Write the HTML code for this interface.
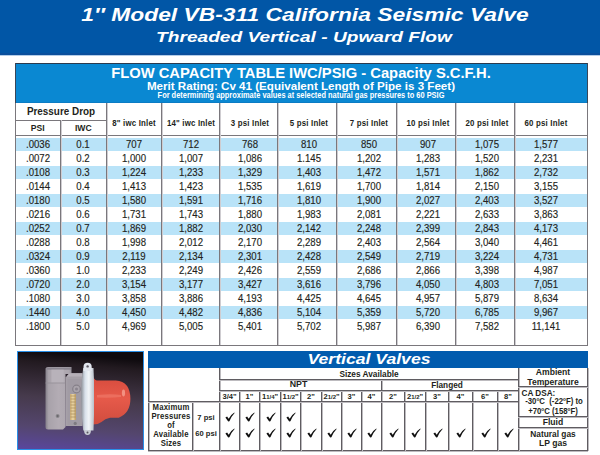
<!DOCTYPE html>
<html><head><meta charset="utf-8">
<style>
html,body{margin:0;padding:0;}
body{width:600px;height:455px;position:relative;overflow:hidden;background:#fff;font-family:"Liberation Sans",sans-serif;color:#231f20;}
.a{position:absolute;}
.t{position:absolute;white-space:nowrap;text-align:center;width:600px;}
.b{font-weight:bold;}
</style></head><body>

<div class="a" style="left:0.00px;top:0.00px;width:600.00px;height:53.00px;background:#0156a6;"></div>
<div class="a" style="left:0.00px;top:53.00px;width:600.00px;height:2.00px;background:#0a4f9c;"></div>
<div class="a" style="left:0.00px;top:55.00px;width:600.00px;height:1.00px;background:#b4cde8;"></div>
<div id="title" class="t" style="left:4.60px;top:4.26px;font-size:18.60px;line-height:22.00px;font-weight:bold;font-style:italic;color:#fff;transform:scaleX(1.228);">1&#8243; Model VB-311 California Seismic Valve</div>
<div id="sub" class="t" style="left:4.40px;top:27.60px;font-size:15.00px;line-height:18.00px;font-weight:bold;font-style:italic;color:#fff;transform:scaleX(1.275);">Threaded Vertical - Upward Flow</div>
<div class="a" style="left:15px;top:63px;width:573px;height:283px;box-sizing:border-box;border:1px solid #7a777c;"></div>
<div class="a" style="left:16.00px;top:64.00px;width:571.00px;height:38.00px;background:#0a88d2;"></div>
<div class="a" style="left:16.00px;top:102.00px;width:571.00px;height:1.00px;background:#0b7cc4;"></div>
<div class="a" style="left:15.00px;top:63.00px;width:573.00px;height:1.00px;background:#2a3a4e;"></div>
<div class="a" style="left:15.00px;top:63.00px;width:1.00px;height:40.00px;background:#3a4658;"></div>
<div class="a" style="left:587.00px;top:63.00px;width:1.00px;height:40.00px;background:#3a4658;"></div>
<div id="tt1" class="t" style="left:0.60px;top:63.60px;font-size:15.00px;line-height:18.00px;font-weight:bold;color:#fff;transform:scaleX(0.984);">FLOW CAPACITY TABLE IWC/PSIG - Capacity S.C.F.H.</div>
<div id="tt2" class="t" style="left:1.30px;top:79.08px;font-size:11.30px;line-height:14.00px;font-weight:bold;color:#fff;transform:scaleX(1.027);">Merit Rating: Cv 41 (Equivalent Length of Pipe is 3 Feet)</div>
<div id="tt3" class="t" style="left:1.30px;top:90.12px;font-size:8.30px;line-height:10.00px;font-weight:bold;color:#fff;transform:scaleX(0.895);">For determining approximate values at selected natural gas pressures to 60 PSIG</div>
<div class="a" style="left:16.00px;top:138.00px;width:571.00px;height:13.00px;background:#b9e3f8;"></div>
<div class="a" style="left:16.00px;top:166.00px;width:571.00px;height:13.00px;background:#b9e3f8;"></div>
<div class="a" style="left:16.00px;top:194.00px;width:571.00px;height:13.00px;background:#b9e3f8;"></div>
<div class="a" style="left:16.00px;top:222.00px;width:571.00px;height:13.00px;background:#b9e3f8;"></div>
<div class="a" style="left:16.00px;top:250.00px;width:571.00px;height:13.00px;background:#b9e3f8;"></div>
<div class="a" style="left:16.00px;top:278.00px;width:571.00px;height:13.00px;background:#b9e3f8;"></div>
<div class="a" style="left:16.00px;top:306.00px;width:571.00px;height:13.00px;background:#b9e3f8;"></div>
<div class="a" style="left:15.00px;top:120.00px;width:91.00px;height:1.00px;background:#7a777c;"></div>
<div class="a" style="left:15.00px;top:135.00px;width:572.00px;height:1.00px;background:#7a777c;"></div>
<div class="a" style="left:60.00px;top:120.00px;width:1.00px;height:225.00px;background:#7a777c;"></div>
<div class="a" style="left:61.00px;top:120.00px;width:1.00px;height:225.00px;background:#cfcdd1;"></div>
<div class="a" style="left:106.00px;top:103.00px;width:1.00px;height:242.00px;background:#7a777c;"></div>
<div class="a" style="left:107.00px;top:103.00px;width:1.00px;height:242.00px;background:#cfcdd1;"></div>
<div class="a" style="left:161.00px;top:103.00px;width:1.00px;height:242.00px;background:#7a777c;"></div>
<div class="a" style="left:162.00px;top:103.00px;width:1.00px;height:242.00px;background:#cfcdd1;"></div>
<div class="a" style="left:219.00px;top:103.00px;width:1.00px;height:242.00px;background:#7a777c;"></div>
<div class="a" style="left:220.00px;top:103.00px;width:1.00px;height:242.00px;background:#cfcdd1;"></div>
<div class="a" style="left:277.00px;top:103.00px;width:1.00px;height:242.00px;background:#7a777c;"></div>
<div class="a" style="left:278.00px;top:103.00px;width:1.00px;height:242.00px;background:#cfcdd1;"></div>
<div class="a" style="left:336.00px;top:103.00px;width:1.00px;height:242.00px;background:#7a777c;"></div>
<div class="a" style="left:337.00px;top:103.00px;width:1.00px;height:242.00px;background:#cfcdd1;"></div>
<div class="a" style="left:396.00px;top:103.00px;width:1.00px;height:242.00px;background:#7a777c;"></div>
<div class="a" style="left:397.00px;top:103.00px;width:1.00px;height:242.00px;background:#cfcdd1;"></div>
<div class="a" style="left:455.00px;top:103.00px;width:1.00px;height:242.00px;background:#7a777c;"></div>
<div class="a" style="left:456.00px;top:103.00px;width:1.00px;height:242.00px;background:#cfcdd1;"></div>
<div class="a" style="left:514.00px;top:103.00px;width:1.00px;height:242.00px;background:#7a777c;"></div>
<div class="a" style="left:515.00px;top:103.00px;width:1.00px;height:242.00px;background:#cfcdd1;"></div>
<div id="pd" class="t" style="left:-239.00px;top:105.19px;font-size:11.00px;line-height:13.00px;font-weight:bold;transform:scaleX(0.900);">Pressure Drop</div>
<div class="t" style="left:-262.40px;top:123.02px;font-size:8.60px;line-height:10.00px;font-weight:bold;">PSI</div>
<div class="t" style="left:-216.70px;top:123.02px;font-size:8.60px;line-height:10.00px;font-weight:bold;">IWC</div>
<div class="t" style="left:-166.30px;top:119.16px;font-size:8.20px;line-height:10.00px;font-weight:bold;transform:scaleX(0.960);letter-spacing:0.2px;">8&quot; iwc Inlet</div>
<div class="t" style="left:-109.20px;top:119.16px;font-size:8.20px;line-height:10.00px;font-weight:bold;transform:scaleX(0.960);letter-spacing:0.2px;">14&quot; iwc Inlet</div>
<div class="t" style="left:-50.20px;top:119.16px;font-size:8.20px;line-height:10.00px;font-weight:bold;transform:scaleX(0.960);letter-spacing:0.2px;">3 psi Inlet</div>
<div class="t" style="left:9.00px;top:119.16px;font-size:8.20px;line-height:10.00px;font-weight:bold;transform:scaleX(0.960);letter-spacing:0.2px;">5 psi Inlet</div>
<div class="t" style="left:68.80px;top:119.16px;font-size:8.20px;line-height:10.00px;font-weight:bold;transform:scaleX(0.960);letter-spacing:0.2px;">7 psi Inlet</div>
<div class="t" style="left:128.00px;top:119.16px;font-size:8.20px;line-height:10.00px;font-weight:bold;transform:scaleX(0.960);letter-spacing:0.2px;">10 psi Inlet</div>
<div class="t" style="left:186.80px;top:119.16px;font-size:8.20px;line-height:10.00px;font-weight:bold;transform:scaleX(0.960);letter-spacing:0.2px;">20 psi Inlet</div>
<div class="t" style="left:245.80px;top:119.16px;font-size:8.20px;line-height:10.00px;font-weight:bold;transform:scaleX(0.960);letter-spacing:0.2px;">60 psi Inlet</div>
<div class="t" style="left:-262.00px;top:137.69px;font-size:11.00px;line-height:13.00px;transform:scaleX(0.875);-webkit-text-stroke:0.15px #231f20;">.0036</div>
<div class="t" style="left:-217.50px;top:137.69px;font-size:11.00px;line-height:13.00px;transform:scaleX(0.875);-webkit-text-stroke:0.15px #231f20;">0.1</div>
<div class="t" style="left:-166.30px;top:137.69px;font-size:11.00px;line-height:13.00px;transform:scaleX(0.875);-webkit-text-stroke:0.15px #231f20;">707</div>
<div class="t" style="left:-109.20px;top:137.69px;font-size:11.00px;line-height:13.00px;transform:scaleX(0.875);-webkit-text-stroke:0.15px #231f20;">712</div>
<div class="t" style="left:-50.20px;top:137.69px;font-size:11.00px;line-height:13.00px;transform:scaleX(0.875);-webkit-text-stroke:0.15px #231f20;">768</div>
<div class="t" style="left:9.00px;top:137.69px;font-size:11.00px;line-height:13.00px;transform:scaleX(0.875);-webkit-text-stroke:0.15px #231f20;">810</div>
<div class="t" style="left:68.80px;top:137.69px;font-size:11.00px;line-height:13.00px;transform:scaleX(0.875);-webkit-text-stroke:0.15px #231f20;">850</div>
<div class="t" style="left:128.00px;top:137.69px;font-size:11.00px;line-height:13.00px;transform:scaleX(0.875);-webkit-text-stroke:0.15px #231f20;">907</div>
<div class="t" style="left:186.80px;top:137.69px;font-size:11.00px;line-height:13.00px;transform:scaleX(0.875);-webkit-text-stroke:0.15px #231f20;">1,075</div>
<div class="t" style="left:245.80px;top:137.69px;font-size:11.00px;line-height:13.00px;transform:scaleX(0.875);-webkit-text-stroke:0.15px #231f20;">1,577</div>
<div class="t" style="left:-262.00px;top:151.69px;font-size:11.00px;line-height:13.00px;transform:scaleX(0.875);-webkit-text-stroke:0.15px #231f20;">.0072</div>
<div class="t" style="left:-217.50px;top:151.69px;font-size:11.00px;line-height:13.00px;transform:scaleX(0.875);-webkit-text-stroke:0.15px #231f20;">0.2</div>
<div class="t" style="left:-166.30px;top:151.69px;font-size:11.00px;line-height:13.00px;transform:scaleX(0.875);-webkit-text-stroke:0.15px #231f20;">1,000</div>
<div class="t" style="left:-109.20px;top:151.69px;font-size:11.00px;line-height:13.00px;transform:scaleX(0.875);-webkit-text-stroke:0.15px #231f20;">1,007</div>
<div class="t" style="left:-50.20px;top:151.69px;font-size:11.00px;line-height:13.00px;transform:scaleX(0.875);-webkit-text-stroke:0.15px #231f20;">1,086</div>
<div class="t" style="left:9.00px;top:151.69px;font-size:11.00px;line-height:13.00px;transform:scaleX(0.875);-webkit-text-stroke:0.15px #231f20;">1.145</div>
<div class="t" style="left:68.80px;top:151.69px;font-size:11.00px;line-height:13.00px;transform:scaleX(0.875);-webkit-text-stroke:0.15px #231f20;">1,202</div>
<div class="t" style="left:128.00px;top:151.69px;font-size:11.00px;line-height:13.00px;transform:scaleX(0.875);-webkit-text-stroke:0.15px #231f20;">1,283</div>
<div class="t" style="left:186.80px;top:151.69px;font-size:11.00px;line-height:13.00px;transform:scaleX(0.875);-webkit-text-stroke:0.15px #231f20;">1,520</div>
<div class="t" style="left:245.80px;top:151.69px;font-size:11.00px;line-height:13.00px;transform:scaleX(0.875);-webkit-text-stroke:0.15px #231f20;">2,231</div>
<div class="t" style="left:-262.00px;top:165.69px;font-size:11.00px;line-height:13.00px;transform:scaleX(0.875);-webkit-text-stroke:0.15px #231f20;">.0108</div>
<div class="t" style="left:-217.50px;top:165.69px;font-size:11.00px;line-height:13.00px;transform:scaleX(0.875);-webkit-text-stroke:0.15px #231f20;">0.3</div>
<div class="t" style="left:-166.30px;top:165.69px;font-size:11.00px;line-height:13.00px;transform:scaleX(0.875);-webkit-text-stroke:0.15px #231f20;">1,224</div>
<div class="t" style="left:-109.20px;top:165.69px;font-size:11.00px;line-height:13.00px;transform:scaleX(0.875);-webkit-text-stroke:0.15px #231f20;">1,233</div>
<div class="t" style="left:-50.20px;top:165.69px;font-size:11.00px;line-height:13.00px;transform:scaleX(0.875);-webkit-text-stroke:0.15px #231f20;">1,329</div>
<div class="t" style="left:9.00px;top:165.69px;font-size:11.00px;line-height:13.00px;transform:scaleX(0.875);-webkit-text-stroke:0.15px #231f20;">1,403</div>
<div class="t" style="left:68.80px;top:165.69px;font-size:11.00px;line-height:13.00px;transform:scaleX(0.875);-webkit-text-stroke:0.15px #231f20;">1,472</div>
<div class="t" style="left:128.00px;top:165.69px;font-size:11.00px;line-height:13.00px;transform:scaleX(0.875);-webkit-text-stroke:0.15px #231f20;">1,571</div>
<div class="t" style="left:186.80px;top:165.69px;font-size:11.00px;line-height:13.00px;transform:scaleX(0.875);-webkit-text-stroke:0.15px #231f20;">1,862</div>
<div class="t" style="left:245.80px;top:165.69px;font-size:11.00px;line-height:13.00px;transform:scaleX(0.875);-webkit-text-stroke:0.15px #231f20;">2,732</div>
<div class="t" style="left:-262.00px;top:179.69px;font-size:11.00px;line-height:13.00px;transform:scaleX(0.875);-webkit-text-stroke:0.15px #231f20;">.0144</div>
<div class="t" style="left:-217.50px;top:179.69px;font-size:11.00px;line-height:13.00px;transform:scaleX(0.875);-webkit-text-stroke:0.15px #231f20;">0.4</div>
<div class="t" style="left:-166.30px;top:179.69px;font-size:11.00px;line-height:13.00px;transform:scaleX(0.875);-webkit-text-stroke:0.15px #231f20;">1,413</div>
<div class="t" style="left:-109.20px;top:179.69px;font-size:11.00px;line-height:13.00px;transform:scaleX(0.875);-webkit-text-stroke:0.15px #231f20;">1,423</div>
<div class="t" style="left:-50.20px;top:179.69px;font-size:11.00px;line-height:13.00px;transform:scaleX(0.875);-webkit-text-stroke:0.15px #231f20;">1,535</div>
<div class="t" style="left:9.00px;top:179.69px;font-size:11.00px;line-height:13.00px;transform:scaleX(0.875);-webkit-text-stroke:0.15px #231f20;">1,619</div>
<div class="t" style="left:68.80px;top:179.69px;font-size:11.00px;line-height:13.00px;transform:scaleX(0.875);-webkit-text-stroke:0.15px #231f20;">1,700</div>
<div class="t" style="left:128.00px;top:179.69px;font-size:11.00px;line-height:13.00px;transform:scaleX(0.875);-webkit-text-stroke:0.15px #231f20;">1,814</div>
<div class="t" style="left:186.80px;top:179.69px;font-size:11.00px;line-height:13.00px;transform:scaleX(0.875);-webkit-text-stroke:0.15px #231f20;">2,150</div>
<div class="t" style="left:245.80px;top:179.69px;font-size:11.00px;line-height:13.00px;transform:scaleX(0.875);-webkit-text-stroke:0.15px #231f20;">3,155</div>
<div class="t" style="left:-262.00px;top:193.69px;font-size:11.00px;line-height:13.00px;transform:scaleX(0.875);-webkit-text-stroke:0.15px #231f20;">.0180</div>
<div class="t" style="left:-217.50px;top:193.69px;font-size:11.00px;line-height:13.00px;transform:scaleX(0.875);-webkit-text-stroke:0.15px #231f20;">0.5</div>
<div class="t" style="left:-166.30px;top:193.69px;font-size:11.00px;line-height:13.00px;transform:scaleX(0.875);-webkit-text-stroke:0.15px #231f20;">1,580</div>
<div class="t" style="left:-109.20px;top:193.69px;font-size:11.00px;line-height:13.00px;transform:scaleX(0.875);-webkit-text-stroke:0.15px #231f20;">1,591</div>
<div class="t" style="left:-50.20px;top:193.69px;font-size:11.00px;line-height:13.00px;transform:scaleX(0.875);-webkit-text-stroke:0.15px #231f20;">1,716</div>
<div class="t" style="left:9.00px;top:193.69px;font-size:11.00px;line-height:13.00px;transform:scaleX(0.875);-webkit-text-stroke:0.15px #231f20;">1,810</div>
<div class="t" style="left:68.80px;top:193.69px;font-size:11.00px;line-height:13.00px;transform:scaleX(0.875);-webkit-text-stroke:0.15px #231f20;">1,900</div>
<div class="t" style="left:128.00px;top:193.69px;font-size:11.00px;line-height:13.00px;transform:scaleX(0.875);-webkit-text-stroke:0.15px #231f20;">2,027</div>
<div class="t" style="left:186.80px;top:193.69px;font-size:11.00px;line-height:13.00px;transform:scaleX(0.875);-webkit-text-stroke:0.15px #231f20;">2,403</div>
<div class="t" style="left:245.80px;top:193.69px;font-size:11.00px;line-height:13.00px;transform:scaleX(0.875);-webkit-text-stroke:0.15px #231f20;">3,527</div>
<div class="t" style="left:-262.00px;top:207.69px;font-size:11.00px;line-height:13.00px;transform:scaleX(0.875);-webkit-text-stroke:0.15px #231f20;">.0216</div>
<div class="t" style="left:-217.50px;top:207.69px;font-size:11.00px;line-height:13.00px;transform:scaleX(0.875);-webkit-text-stroke:0.15px #231f20;">0.6</div>
<div class="t" style="left:-166.30px;top:207.69px;font-size:11.00px;line-height:13.00px;transform:scaleX(0.875);-webkit-text-stroke:0.15px #231f20;">1,731</div>
<div class="t" style="left:-109.20px;top:207.69px;font-size:11.00px;line-height:13.00px;transform:scaleX(0.875);-webkit-text-stroke:0.15px #231f20;">1,743</div>
<div class="t" style="left:-50.20px;top:207.69px;font-size:11.00px;line-height:13.00px;transform:scaleX(0.875);-webkit-text-stroke:0.15px #231f20;">1,880</div>
<div class="t" style="left:9.00px;top:207.69px;font-size:11.00px;line-height:13.00px;transform:scaleX(0.875);-webkit-text-stroke:0.15px #231f20;">1,983</div>
<div class="t" style="left:68.80px;top:207.69px;font-size:11.00px;line-height:13.00px;transform:scaleX(0.875);-webkit-text-stroke:0.15px #231f20;">2,081</div>
<div class="t" style="left:128.00px;top:207.69px;font-size:11.00px;line-height:13.00px;transform:scaleX(0.875);-webkit-text-stroke:0.15px #231f20;">2,221</div>
<div class="t" style="left:186.80px;top:207.69px;font-size:11.00px;line-height:13.00px;transform:scaleX(0.875);-webkit-text-stroke:0.15px #231f20;">2,633</div>
<div class="t" style="left:245.80px;top:207.69px;font-size:11.00px;line-height:13.00px;transform:scaleX(0.875);-webkit-text-stroke:0.15px #231f20;">3,863</div>
<div class="t" style="left:-262.00px;top:221.69px;font-size:11.00px;line-height:13.00px;transform:scaleX(0.875);-webkit-text-stroke:0.15px #231f20;">.0252</div>
<div class="t" style="left:-217.50px;top:221.69px;font-size:11.00px;line-height:13.00px;transform:scaleX(0.875);-webkit-text-stroke:0.15px #231f20;">0.7</div>
<div class="t" style="left:-166.30px;top:221.69px;font-size:11.00px;line-height:13.00px;transform:scaleX(0.875);-webkit-text-stroke:0.15px #231f20;">1,869</div>
<div class="t" style="left:-109.20px;top:221.69px;font-size:11.00px;line-height:13.00px;transform:scaleX(0.875);-webkit-text-stroke:0.15px #231f20;">1,882</div>
<div class="t" style="left:-50.20px;top:221.69px;font-size:11.00px;line-height:13.00px;transform:scaleX(0.875);-webkit-text-stroke:0.15px #231f20;">2,030</div>
<div class="t" style="left:9.00px;top:221.69px;font-size:11.00px;line-height:13.00px;transform:scaleX(0.875);-webkit-text-stroke:0.15px #231f20;">2,142</div>
<div class="t" style="left:68.80px;top:221.69px;font-size:11.00px;line-height:13.00px;transform:scaleX(0.875);-webkit-text-stroke:0.15px #231f20;">2,248</div>
<div class="t" style="left:128.00px;top:221.69px;font-size:11.00px;line-height:13.00px;transform:scaleX(0.875);-webkit-text-stroke:0.15px #231f20;">2,399</div>
<div class="t" style="left:186.80px;top:221.69px;font-size:11.00px;line-height:13.00px;transform:scaleX(0.875);-webkit-text-stroke:0.15px #231f20;">2,843</div>
<div class="t" style="left:245.80px;top:221.69px;font-size:11.00px;line-height:13.00px;transform:scaleX(0.875);-webkit-text-stroke:0.15px #231f20;">4,173</div>
<div class="t" style="left:-262.00px;top:235.69px;font-size:11.00px;line-height:13.00px;transform:scaleX(0.875);-webkit-text-stroke:0.15px #231f20;">.0288</div>
<div class="t" style="left:-217.50px;top:235.69px;font-size:11.00px;line-height:13.00px;transform:scaleX(0.875);-webkit-text-stroke:0.15px #231f20;">0.8</div>
<div class="t" style="left:-166.30px;top:235.69px;font-size:11.00px;line-height:13.00px;transform:scaleX(0.875);-webkit-text-stroke:0.15px #231f20;">1,998</div>
<div class="t" style="left:-109.20px;top:235.69px;font-size:11.00px;line-height:13.00px;transform:scaleX(0.875);-webkit-text-stroke:0.15px #231f20;">2,012</div>
<div class="t" style="left:-50.20px;top:235.69px;font-size:11.00px;line-height:13.00px;transform:scaleX(0.875);-webkit-text-stroke:0.15px #231f20;">2,170</div>
<div class="t" style="left:9.00px;top:235.69px;font-size:11.00px;line-height:13.00px;transform:scaleX(0.875);-webkit-text-stroke:0.15px #231f20;">2,289</div>
<div class="t" style="left:68.80px;top:235.69px;font-size:11.00px;line-height:13.00px;transform:scaleX(0.875);-webkit-text-stroke:0.15px #231f20;">2,403</div>
<div class="t" style="left:128.00px;top:235.69px;font-size:11.00px;line-height:13.00px;transform:scaleX(0.875);-webkit-text-stroke:0.15px #231f20;">2,564</div>
<div class="t" style="left:186.80px;top:235.69px;font-size:11.00px;line-height:13.00px;transform:scaleX(0.875);-webkit-text-stroke:0.15px #231f20;">3,040</div>
<div class="t" style="left:245.80px;top:235.69px;font-size:11.00px;line-height:13.00px;transform:scaleX(0.875);-webkit-text-stroke:0.15px #231f20;">4,461</div>
<div class="t" style="left:-262.00px;top:249.69px;font-size:11.00px;line-height:13.00px;transform:scaleX(0.875);-webkit-text-stroke:0.15px #231f20;">.0324</div>
<div class="t" style="left:-217.50px;top:249.69px;font-size:11.00px;line-height:13.00px;transform:scaleX(0.875);-webkit-text-stroke:0.15px #231f20;">0.9</div>
<div class="t" style="left:-166.30px;top:249.69px;font-size:11.00px;line-height:13.00px;transform:scaleX(0.875);-webkit-text-stroke:0.15px #231f20;">2,119</div>
<div class="t" style="left:-109.20px;top:249.69px;font-size:11.00px;line-height:13.00px;transform:scaleX(0.875);-webkit-text-stroke:0.15px #231f20;">2,134</div>
<div class="t" style="left:-50.20px;top:249.69px;font-size:11.00px;line-height:13.00px;transform:scaleX(0.875);-webkit-text-stroke:0.15px #231f20;">2,301</div>
<div class="t" style="left:9.00px;top:249.69px;font-size:11.00px;line-height:13.00px;transform:scaleX(0.875);-webkit-text-stroke:0.15px #231f20;">2,428</div>
<div class="t" style="left:68.80px;top:249.69px;font-size:11.00px;line-height:13.00px;transform:scaleX(0.875);-webkit-text-stroke:0.15px #231f20;">2,549</div>
<div class="t" style="left:128.00px;top:249.69px;font-size:11.00px;line-height:13.00px;transform:scaleX(0.875);-webkit-text-stroke:0.15px #231f20;">2,719</div>
<div class="t" style="left:186.80px;top:249.69px;font-size:11.00px;line-height:13.00px;transform:scaleX(0.875);-webkit-text-stroke:0.15px #231f20;">3,224</div>
<div class="t" style="left:245.80px;top:249.69px;font-size:11.00px;line-height:13.00px;transform:scaleX(0.875);-webkit-text-stroke:0.15px #231f20;">4,731</div>
<div class="t" style="left:-262.00px;top:263.69px;font-size:11.00px;line-height:13.00px;transform:scaleX(0.875);-webkit-text-stroke:0.15px #231f20;">.0360</div>
<div class="t" style="left:-217.50px;top:263.69px;font-size:11.00px;line-height:13.00px;transform:scaleX(0.875);-webkit-text-stroke:0.15px #231f20;">1.0</div>
<div class="t" style="left:-166.30px;top:263.69px;font-size:11.00px;line-height:13.00px;transform:scaleX(0.875);-webkit-text-stroke:0.15px #231f20;">2,233</div>
<div class="t" style="left:-109.20px;top:263.69px;font-size:11.00px;line-height:13.00px;transform:scaleX(0.875);-webkit-text-stroke:0.15px #231f20;">2,249</div>
<div class="t" style="left:-50.20px;top:263.69px;font-size:11.00px;line-height:13.00px;transform:scaleX(0.875);-webkit-text-stroke:0.15px #231f20;">2,426</div>
<div class="t" style="left:9.00px;top:263.69px;font-size:11.00px;line-height:13.00px;transform:scaleX(0.875);-webkit-text-stroke:0.15px #231f20;">2,559</div>
<div class="t" style="left:68.80px;top:263.69px;font-size:11.00px;line-height:13.00px;transform:scaleX(0.875);-webkit-text-stroke:0.15px #231f20;">2,686</div>
<div class="t" style="left:128.00px;top:263.69px;font-size:11.00px;line-height:13.00px;transform:scaleX(0.875);-webkit-text-stroke:0.15px #231f20;">2,866</div>
<div class="t" style="left:186.80px;top:263.69px;font-size:11.00px;line-height:13.00px;transform:scaleX(0.875);-webkit-text-stroke:0.15px #231f20;">3,398</div>
<div class="t" style="left:245.80px;top:263.69px;font-size:11.00px;line-height:13.00px;transform:scaleX(0.875);-webkit-text-stroke:0.15px #231f20;">4,987</div>
<div class="t" style="left:-262.00px;top:277.69px;font-size:11.00px;line-height:13.00px;transform:scaleX(0.875);-webkit-text-stroke:0.15px #231f20;">.0720</div>
<div class="t" style="left:-217.50px;top:277.69px;font-size:11.00px;line-height:13.00px;transform:scaleX(0.875);-webkit-text-stroke:0.15px #231f20;">2.0</div>
<div class="t" style="left:-166.30px;top:277.69px;font-size:11.00px;line-height:13.00px;transform:scaleX(0.875);-webkit-text-stroke:0.15px #231f20;">3,154</div>
<div class="t" style="left:-109.20px;top:277.69px;font-size:11.00px;line-height:13.00px;transform:scaleX(0.875);-webkit-text-stroke:0.15px #231f20;">3,177</div>
<div class="t" style="left:-50.20px;top:277.69px;font-size:11.00px;line-height:13.00px;transform:scaleX(0.875);-webkit-text-stroke:0.15px #231f20;">3,427</div>
<div class="t" style="left:9.00px;top:277.69px;font-size:11.00px;line-height:13.00px;transform:scaleX(0.875);-webkit-text-stroke:0.15px #231f20;">3,616</div>
<div class="t" style="left:68.80px;top:277.69px;font-size:11.00px;line-height:13.00px;transform:scaleX(0.875);-webkit-text-stroke:0.15px #231f20;">3,796</div>
<div class="t" style="left:128.00px;top:277.69px;font-size:11.00px;line-height:13.00px;transform:scaleX(0.875);-webkit-text-stroke:0.15px #231f20;">4,050</div>
<div class="t" style="left:186.80px;top:277.69px;font-size:11.00px;line-height:13.00px;transform:scaleX(0.875);-webkit-text-stroke:0.15px #231f20;">4,803</div>
<div class="t" style="left:245.80px;top:277.69px;font-size:11.00px;line-height:13.00px;transform:scaleX(0.875);-webkit-text-stroke:0.15px #231f20;">7,051</div>
<div class="t" style="left:-262.00px;top:291.69px;font-size:11.00px;line-height:13.00px;transform:scaleX(0.875);-webkit-text-stroke:0.15px #231f20;">.1080</div>
<div class="t" style="left:-217.50px;top:291.69px;font-size:11.00px;line-height:13.00px;transform:scaleX(0.875);-webkit-text-stroke:0.15px #231f20;">3.0</div>
<div class="t" style="left:-166.30px;top:291.69px;font-size:11.00px;line-height:13.00px;transform:scaleX(0.875);-webkit-text-stroke:0.15px #231f20;">3,858</div>
<div class="t" style="left:-109.20px;top:291.69px;font-size:11.00px;line-height:13.00px;transform:scaleX(0.875);-webkit-text-stroke:0.15px #231f20;">3,886</div>
<div class="t" style="left:-50.20px;top:291.69px;font-size:11.00px;line-height:13.00px;transform:scaleX(0.875);-webkit-text-stroke:0.15px #231f20;">4,193</div>
<div class="t" style="left:9.00px;top:291.69px;font-size:11.00px;line-height:13.00px;transform:scaleX(0.875);-webkit-text-stroke:0.15px #231f20;">4,425</div>
<div class="t" style="left:68.80px;top:291.69px;font-size:11.00px;line-height:13.00px;transform:scaleX(0.875);-webkit-text-stroke:0.15px #231f20;">4,645</div>
<div class="t" style="left:128.00px;top:291.69px;font-size:11.00px;line-height:13.00px;transform:scaleX(0.875);-webkit-text-stroke:0.15px #231f20;">4,957</div>
<div class="t" style="left:186.80px;top:291.69px;font-size:11.00px;line-height:13.00px;transform:scaleX(0.875);-webkit-text-stroke:0.15px #231f20;">5,879</div>
<div class="t" style="left:245.80px;top:291.69px;font-size:11.00px;line-height:13.00px;transform:scaleX(0.875);-webkit-text-stroke:0.15px #231f20;">8,634</div>
<div class="t" style="left:-262.00px;top:305.69px;font-size:11.00px;line-height:13.00px;transform:scaleX(0.875);-webkit-text-stroke:0.15px #231f20;">.1440</div>
<div class="t" style="left:-217.50px;top:305.69px;font-size:11.00px;line-height:13.00px;transform:scaleX(0.875);-webkit-text-stroke:0.15px #231f20;">4.0</div>
<div class="t" style="left:-166.30px;top:305.69px;font-size:11.00px;line-height:13.00px;transform:scaleX(0.875);-webkit-text-stroke:0.15px #231f20;">4,450</div>
<div class="t" style="left:-109.20px;top:305.69px;font-size:11.00px;line-height:13.00px;transform:scaleX(0.875);-webkit-text-stroke:0.15px #231f20;">4,482</div>
<div class="t" style="left:-50.20px;top:305.69px;font-size:11.00px;line-height:13.00px;transform:scaleX(0.875);-webkit-text-stroke:0.15px #231f20;">4,836</div>
<div class="t" style="left:9.00px;top:305.69px;font-size:11.00px;line-height:13.00px;transform:scaleX(0.875);-webkit-text-stroke:0.15px #231f20;">5,104</div>
<div class="t" style="left:68.80px;top:305.69px;font-size:11.00px;line-height:13.00px;transform:scaleX(0.875);-webkit-text-stroke:0.15px #231f20;">5,359</div>
<div class="t" style="left:128.00px;top:305.69px;font-size:11.00px;line-height:13.00px;transform:scaleX(0.875);-webkit-text-stroke:0.15px #231f20;">5,720</div>
<div class="t" style="left:186.80px;top:305.69px;font-size:11.00px;line-height:13.00px;transform:scaleX(0.875);-webkit-text-stroke:0.15px #231f20;">6,785</div>
<div class="t" style="left:245.80px;top:305.69px;font-size:11.00px;line-height:13.00px;transform:scaleX(0.875);-webkit-text-stroke:0.15px #231f20;">9,967</div>
<div class="t" style="left:-262.00px;top:319.69px;font-size:11.00px;line-height:13.00px;transform:scaleX(0.875);-webkit-text-stroke:0.15px #231f20;">.1800</div>
<div class="t" style="left:-217.50px;top:319.69px;font-size:11.00px;line-height:13.00px;transform:scaleX(0.875);-webkit-text-stroke:0.15px #231f20;">5.0</div>
<div class="t" style="left:-166.30px;top:319.69px;font-size:11.00px;line-height:13.00px;transform:scaleX(0.875);-webkit-text-stroke:0.15px #231f20;">4,969</div>
<div class="t" style="left:-109.20px;top:319.69px;font-size:11.00px;line-height:13.00px;transform:scaleX(0.875);-webkit-text-stroke:0.15px #231f20;">5,005</div>
<div class="t" style="left:-50.20px;top:319.69px;font-size:11.00px;line-height:13.00px;transform:scaleX(0.875);-webkit-text-stroke:0.15px #231f20;">5,401</div>
<div class="t" style="left:9.00px;top:319.69px;font-size:11.00px;line-height:13.00px;transform:scaleX(0.875);-webkit-text-stroke:0.15px #231f20;">5,702</div>
<div class="t" style="left:68.80px;top:319.69px;font-size:11.00px;line-height:13.00px;transform:scaleX(0.875);-webkit-text-stroke:0.15px #231f20;">5,987</div>
<div class="t" style="left:128.00px;top:319.69px;font-size:11.00px;line-height:13.00px;transform:scaleX(0.875);-webkit-text-stroke:0.15px #231f20;">6,390</div>
<div class="t" style="left:186.80px;top:319.69px;font-size:11.00px;line-height:13.00px;transform:scaleX(0.875);-webkit-text-stroke:0.15px #231f20;">7,582</div>
<div class="t" style="left:245.80px;top:319.69px;font-size:11.00px;line-height:13.00px;transform:scaleX(0.875);-webkit-text-stroke:0.15px #231f20;">11,141</div>
<svg class="a" style="left:17px;top:351px;" width="127" height="99" viewBox="0 0 127 99">
<defs>
<linearGradient id="bg" x1="0.1" y1="0" x2="0" y2="1">
<stop offset="0" stop-color="#0e0a0e"/><stop offset="0.1" stop-color="#221a20"/><stop offset="0.45" stop-color="#463a4c"/><stop offset="0.75" stop-color="#54466e"/><stop offset="1" stop-color="#5a46a0"/>
</linearGradient>
<linearGradient id="body" x1="0" y1="0" x2="1" y2="0">
<stop offset="0" stop-color="#85808a"/><stop offset="0.12" stop-color="#a8a2aa"/><stop offset="0.5" stop-color="#b3acb4"/><stop offset="0.9" stop-color="#aca6ae"/><stop offset="1" stop-color="#97929a"/>
</linearGradient>
<linearGradient id="band" x1="0" y1="0" x2="1" y2="0">
<stop offset="0" stop-color="#8c9098"/><stop offset="0.3" stop-color="#d8e0ea"/><stop offset="0.6" stop-color="#f2f5f8"/><stop offset="1" stop-color="#b8c0ca"/>
</linearGradient>
<linearGradient id="red" x1="0" y1="0" x2="0" y2="1">
<stop offset="0" stop-color="#d84c3e"/><stop offset="0.45" stop-color="#e65a4a"/><stop offset="1" stop-color="#d04c3e"/>
</linearGradient>
<linearGradient id="strip" x1="0" y1="0" x2="1" y2="0">
<stop offset="0" stop-color="#c8a870"/><stop offset="0.5" stop-color="#ecd8a8"/><stop offset="1" stop-color="#b89860"/>
</linearGradient>
</defs>
<rect x="0" y="0" width="127" height="99" fill="url(#bg)"/>
<path d="M28.5 17.5 Q28.5 16 31 16 L54.5 16 L54.5 23 L48.5 23 L48.5 76 L46 78.5 L31 78.5 Q28.5 78.5 28.5 76 Z" fill="url(#body)"/>
<rect x="30" y="16.5" width="24" height="2.2" fill="#8a8590"/>
<rect x="34.4" y="18.7" width="12.3" height="13" fill="#b8b2ba"/>
<line x1="28.5" y1="32" x2="48" y2="32" stroke="#948f98" stroke-width="0.8"/>
<circle cx="40.6" cy="65" r="2" fill="#8a878c"/><circle cx="40.6" cy="65" r="1" fill="#6a676c"/>
<path d="M52.5 22.2 L65.5 22.2 L65.5 75 L48.5 75 L48.5 26.5 Z" fill="#a6a0a8"/>
<path d="M52.5 22.2 L65.5 22.2 L65.5 25.5 L49.5 25.5 Z" fill="#b6b0b8"/>
<rect x="50.5" y="28" width="15" height="46" fill="#9c96a0" opacity="0.5"/>
<circle cx="59.5" cy="38" r="4.4" fill="#86808a"/><circle cx="59.5" cy="38" r="3.2" fill="#aaa4ac"/><circle cx="59.5" cy="38" r="1.5" fill="#8a848e"/>
<rect x="53" y="43" width="6" height="26" fill="url(#strip)"/>
<path d="M53.5 45 h5 M53.5 48 h5 M53.5 51 h5 M53.5 54 h5 M53.5 57 h5 M53.5 60 h5 M53.5 63 h5 M53.5 66 h5" stroke="#a08050" stroke-width="0.6"/>
<circle cx="58.2" cy="72.4" r="1.6" fill="#7e7b80"/>
<path d="M76 26.3 Q78 29.4 80 29.4 L98.8 29.4 Q113.4 30.5 113.4 47.8 Q113.4 62 101.8 66.7 L93 66.7 Q88 67.5 84.5 71 Q81 73.6 76 73.6 Z" fill="url(#red)"/>
<path d="M80 44 Q95 42.5 104 44 L104 46 Q95 47 80 46.5 Z" fill="#f07868" opacity="0.7"/>
<ellipse cx="106.5" cy="42" rx="1.6" ry="3.4" fill="#f6a090" opacity="0.8"/>
<path d="M66.2 17 L76.5 17 L77 30 L77 64 L76.5 79.5 L66.2 79.5 Q64.2 64 64.2 48 Q64.2 30 66.2 17 Z" fill="url(#band)"/>
<path d="M66.5 20 L66.5 16 Q66.5 11.8 70.6 11.8 Q74.7 11.8 74.7 16 L74.7 20 Z" fill="#e2e6ee"/>
<circle cx="70.6" cy="15.4" r="1.2" fill="#5a5660"/>
<path d="M67 79 Q67 84 70.5 84 Q74 84 74 79 Z" fill="#c8ccd4"/>
<circle cx="70.5" cy="81.5" r="1" fill="#5a5660"/>
<rect x="0.5" y="0.5" width="126" height="98" fill="none" stroke="#2a90e8" stroke-width="1"/>
</svg>
<div class="a" style="left:148.00px;top:351.00px;width:440.00px;height:17.00px;background:#015bae;"></div>
<div id="vv" class="t" style="left:68.80px;top:350.20px;font-size:15.00px;line-height:18.00px;font-weight:bold;font-style:italic;color:#fff;transform:scaleX(1.174);">Vertical Valves</div>
<div class="a" style="left:148.00px;top:368.00px;width:1.00px;height:83.00px;background:#5f5c61;"></div>
<div class="a" style="left:149.00px;top:368.00px;width:1.00px;height:83.00px;background:#bdbbbf;"></div>
<div class="a" style="left:587.00px;top:368.00px;width:1.00px;height:83.00px;background:#5f5c61;"></div>
<div class="a" style="left:588.00px;top:368.00px;width:1.00px;height:83.00px;background:#bdbbbf;"></div>
<div class="a" style="left:148.00px;top:450.00px;width:440.00px;height:1.00px;background:#5f5c61;"></div>
<div class="a" style="left:148.00px;top:451.00px;width:440.00px;height:1.00px;background:#bdbbbf;"></div>
<div class="a" style="left:192.00px;top:401.00px;width:1.00px;height:50.00px;background:#5f5c61;"></div>
<div class="a" style="left:193.00px;top:401.00px;width:1.00px;height:50.00px;background:#bdbbbf;"></div>
<div class="a" style="left:219.00px;top:368.00px;width:1.00px;height:83.00px;background:#5f5c61;"></div>
<div class="a" style="left:220.00px;top:368.00px;width:1.00px;height:83.00px;background:#bdbbbf;"></div>
<div class="a" style="left:518.00px;top:368.00px;width:1.00px;height:83.00px;background:#5f5c61;"></div>
<div class="a" style="left:519.00px;top:368.00px;width:1.00px;height:83.00px;background:#bdbbbf;"></div>
<div class="a" style="left:381.00px;top:379.00px;width:1.00px;height:72.00px;background:#5f5c61;"></div>
<div class="a" style="left:382.00px;top:379.00px;width:1.00px;height:72.00px;background:#bdbbbf;"></div>
<div class="a" style="left:239.00px;top:390.00px;width:1.00px;height:61.00px;background:#5f5c61;"></div>
<div class="a" style="left:240.00px;top:390.00px;width:1.00px;height:61.00px;background:#bdbbbf;"></div>
<div class="a" style="left:259.00px;top:390.00px;width:1.00px;height:61.00px;background:#5f5c61;"></div>
<div class="a" style="left:260.00px;top:390.00px;width:1.00px;height:61.00px;background:#bdbbbf;"></div>
<div class="a" style="left:280.00px;top:390.00px;width:1.00px;height:61.00px;background:#5f5c61;"></div>
<div class="a" style="left:281.00px;top:390.00px;width:1.00px;height:61.00px;background:#bdbbbf;"></div>
<div class="a" style="left:300.00px;top:390.00px;width:1.00px;height:61.00px;background:#5f5c61;"></div>
<div class="a" style="left:301.00px;top:390.00px;width:1.00px;height:61.00px;background:#bdbbbf;"></div>
<div class="a" style="left:321.00px;top:390.00px;width:1.00px;height:61.00px;background:#5f5c61;"></div>
<div class="a" style="left:322.00px;top:390.00px;width:1.00px;height:61.00px;background:#bdbbbf;"></div>
<div class="a" style="left:341.00px;top:390.00px;width:1.00px;height:61.00px;background:#5f5c61;"></div>
<div class="a" style="left:342.00px;top:390.00px;width:1.00px;height:61.00px;background:#bdbbbf;"></div>
<div class="a" style="left:361.00px;top:390.00px;width:1.00px;height:61.00px;background:#5f5c61;"></div>
<div class="a" style="left:362.00px;top:390.00px;width:1.00px;height:61.00px;background:#bdbbbf;"></div>
<div class="a" style="left:404.00px;top:390.00px;width:1.00px;height:61.00px;background:#5f5c61;"></div>
<div class="a" style="left:405.00px;top:390.00px;width:1.00px;height:61.00px;background:#bdbbbf;"></div>
<div class="a" style="left:425.00px;top:390.00px;width:1.00px;height:61.00px;background:#5f5c61;"></div>
<div class="a" style="left:426.00px;top:390.00px;width:1.00px;height:61.00px;background:#bdbbbf;"></div>
<div class="a" style="left:448.00px;top:390.00px;width:1.00px;height:61.00px;background:#5f5c61;"></div>
<div class="a" style="left:449.00px;top:390.00px;width:1.00px;height:61.00px;background:#bdbbbf;"></div>
<div class="a" style="left:472.00px;top:390.00px;width:1.00px;height:61.00px;background:#5f5c61;"></div>
<div class="a" style="left:473.00px;top:390.00px;width:1.00px;height:61.00px;background:#bdbbbf;"></div>
<div class="a" style="left:497.00px;top:390.00px;width:1.00px;height:61.00px;background:#5f5c61;"></div>
<div class="a" style="left:498.00px;top:390.00px;width:1.00px;height:61.00px;background:#bdbbbf;"></div>
<div class="a" style="left:219.00px;top:379.00px;width:299.00px;height:1.00px;background:#5f5c61;"></div>
<div class="a" style="left:219.00px;top:380.00px;width:299.00px;height:1.00px;background:#bdbbbf;"></div>
<div class="a" style="left:219.00px;top:390.00px;width:299.00px;height:1.00px;background:#5f5c61;"></div>
<div class="a" style="left:219.00px;top:391.00px;width:299.00px;height:1.00px;background:#bdbbbf;"></div>
<div class="a" style="left:148.00px;top:401.00px;width:370.00px;height:1.00px;background:#5f5c61;"></div>
<div class="a" style="left:148.00px;top:402.00px;width:370.00px;height:1.00px;background:#bdbbbf;"></div>
<div class="a" style="left:518.00px;top:386.00px;width:70.00px;height:1.00px;background:#5f5c61;"></div>
<div class="a" style="left:518.00px;top:387.00px;width:70.00px;height:1.00px;background:#bdbbbf;"></div>
<div class="a" style="left:518.00px;top:416.00px;width:70.00px;height:1.00px;background:#5f5c61;"></div>
<div class="a" style="left:518.00px;top:417.00px;width:70.00px;height:1.00px;background:#bdbbbf;"></div>
<div class="a" style="left:518.00px;top:427.00px;width:70.00px;height:1.00px;background:#5f5c61;"></div>
<div class="a" style="left:518.00px;top:428.00px;width:70.00px;height:1.00px;background:#bdbbbf;"></div>
<div class="t" style="left:68.70px;top:368.52px;font-size:8.60px;line-height:10.00px;font-weight:bold;transform:scaleX(0.963);">Sizes Available</div>
<div class="t" style="left:-1.50px;top:379.45px;font-size:8.80px;line-height:11.00px;font-weight:bold;">NPT</div>
<div class="t" style="left:146.80px;top:380.02px;font-size:8.60px;line-height:10.00px;font-weight:bold;transform:scaleX(0.960);">Flanged</div>
<div class="t" style="left:-70.50px;top:391.87px;font-size:7.60px;line-height:9.00px;font-weight:bold;">3/4&quot;</div>
<div class="t" style="left:-50.50px;top:391.87px;font-size:7.60px;line-height:9.00px;font-weight:bold;">1&quot;</div>
<div class="t" style="left:-30.00px;top:391.87px;font-size:7.60px;line-height:9.00px;font-weight:bold;">1<span style="font-size:6px">1/4</span>&quot;</div>
<div class="t" style="left:-9.50px;top:391.87px;font-size:7.60px;line-height:9.00px;font-weight:bold;">1<span style="font-size:6px">1/2</span>&quot;</div>
<div class="t" style="left:11.00px;top:391.87px;font-size:7.60px;line-height:9.00px;font-weight:bold;">2&quot;</div>
<div class="t" style="left:31.50px;top:391.87px;font-size:7.60px;line-height:9.00px;font-weight:bold;">2<span style="font-size:6px">1/2</span>&quot;</div>
<div class="t" style="left:51.50px;top:391.87px;font-size:7.60px;line-height:9.00px;font-weight:bold;">3&quot;</div>
<div class="t" style="left:71.50px;top:391.87px;font-size:7.60px;line-height:9.00px;font-weight:bold;">4&quot;</div>
<div class="t" style="left:93.00px;top:391.87px;font-size:7.60px;line-height:9.00px;font-weight:bold;">2&quot;</div>
<div class="t" style="left:115.00px;top:391.87px;font-size:7.60px;line-height:9.00px;font-weight:bold;">2<span style="font-size:6px">1/2</span>&quot;</div>
<div class="t" style="left:137.00px;top:391.87px;font-size:7.60px;line-height:9.00px;font-weight:bold;">3&quot;</div>
<div class="t" style="left:160.50px;top:391.87px;font-size:7.60px;line-height:9.00px;font-weight:bold;">4&quot;</div>
<div class="t" style="left:185.00px;top:391.87px;font-size:7.60px;line-height:9.00px;font-weight:bold;">6&quot;</div>
<div class="t" style="left:208.00px;top:391.87px;font-size:7.60px;line-height:9.00px;font-weight:bold;">8&quot;</div>
<div class="t" style="left:-129.00px;top:402.42px;font-size:8.60px;line-height:10.00px;font-weight:bold;transform:scaleX(0.900);letter-spacing:0.2px;">Maximum</div>
<div class="t" style="left:-129.00px;top:411.37px;font-size:8.60px;line-height:10.00px;font-weight:bold;transform:scaleX(0.900);letter-spacing:0.2px;">Pressures</div>
<div class="t" style="left:-129.00px;top:420.32px;font-size:8.60px;line-height:10.00px;font-weight:bold;transform:scaleX(0.900);letter-spacing:0.2px;">of</div>
<div class="t" style="left:-129.00px;top:429.27px;font-size:8.60px;line-height:10.00px;font-weight:bold;transform:scaleX(0.900);letter-spacing:0.2px;">Available</div>
<div class="t" style="left:-129.00px;top:438.22px;font-size:8.60px;line-height:10.00px;font-weight:bold;transform:scaleX(0.900);letter-spacing:0.2px;">Sizes</div>
<div class="t" style="left:-94.00px;top:412.87px;font-size:7.60px;line-height:9.00px;font-weight:bold;">7 psi</div>
<div class="t" style="left:-94.00px;top:428.87px;font-size:7.60px;line-height:9.00px;font-weight:bold;">60 psi</div>
<div class="t" style="left:253.00px;top:367.02px;font-size:8.60px;line-height:10.00px;font-weight:bold;">Ambient</div>
<div class="t" style="left:253.00px;top:376.82px;font-size:8.60px;line-height:10.00px;font-weight:bold;">Temperature</div>
<div class="a b" style="left:521.5px;top:388.66px;font-size:8.2px;line-height:10px;white-space:nowrap;">CA DSA:</div>
<div class="t" style="left:253.50px;top:397.36px;font-size:8.20px;line-height:10.00px;font-weight:bold;transform:scaleX(0.950);">-30<span style="font-size:5px;position:relative;top:-3px;line-height:0">o</span>C &nbsp;(-22<span style="font-size:5px;position:relative;top:-3px;line-height:0">o</span>F) to</div>
<div class="t" style="left:253.00px;top:407.16px;font-size:8.20px;line-height:10.00px;font-weight:bold;transform:scaleX(0.950);">+70<span style="font-size:5px;position:relative;top:-3px;line-height:0">o</span>C (158<span style="font-size:5px;position:relative;top:-3px;line-height:0">o</span>F)</div>
<div class="t" style="left:253.00px;top:417.02px;font-size:8.60px;line-height:10.00px;font-weight:bold;">Fluid</div>
<div class="t" style="left:253.00px;top:429.32px;font-size:8.60px;line-height:10.00px;font-weight:bold;transform:scaleX(0.970);">Natural gas</div>
<div class="t" style="left:253.00px;top:438.02px;font-size:8.60px;line-height:10.00px;font-weight:bold;">LP gas</div>
<svg class="a" style="left:225.2px;top:412.2px;" width="10" height="10" viewBox="0 0 10 10"><path d="M0.4 5.6 L2.1 4.6 L3.7 6.7 Q5.9 2.7 9.3 0.6 L9.6 1.1 Q6.6 4.2 4.4 9.3 L3.2 9.4 Z" fill="#111"/></svg>
<svg class="a" style="left:225.2px;top:427.6px;" width="10" height="10" viewBox="0 0 10 10"><path d="M0.4 5.6 L2.1 4.6 L3.7 6.7 Q5.9 2.7 9.3 0.6 L9.6 1.1 Q6.6 4.2 4.4 9.3 L3.2 9.4 Z" fill="#111"/></svg>
<svg class="a" style="left:245.2px;top:412.2px;" width="10" height="10" viewBox="0 0 10 10"><path d="M0.4 5.6 L2.1 4.6 L3.7 6.7 Q5.9 2.7 9.3 0.6 L9.6 1.1 Q6.6 4.2 4.4 9.3 L3.2 9.4 Z" fill="#111"/></svg>
<svg class="a" style="left:245.2px;top:427.6px;" width="10" height="10" viewBox="0 0 10 10"><path d="M0.4 5.6 L2.1 4.6 L3.7 6.7 Q5.9 2.7 9.3 0.6 L9.6 1.1 Q6.6 4.2 4.4 9.3 L3.2 9.4 Z" fill="#111"/></svg>
<svg class="a" style="left:265.7px;top:412.2px;" width="10" height="10" viewBox="0 0 10 10"><path d="M0.4 5.6 L2.1 4.6 L3.7 6.7 Q5.9 2.7 9.3 0.6 L9.6 1.1 Q6.6 4.2 4.4 9.3 L3.2 9.4 Z" fill="#111"/></svg>
<svg class="a" style="left:265.7px;top:427.6px;" width="10" height="10" viewBox="0 0 10 10"><path d="M0.4 5.6 L2.1 4.6 L3.7 6.7 Q5.9 2.7 9.3 0.6 L9.6 1.1 Q6.6 4.2 4.4 9.3 L3.2 9.4 Z" fill="#111"/></svg>
<svg class="a" style="left:286.2px;top:412.2px;" width="10" height="10" viewBox="0 0 10 10"><path d="M0.4 5.6 L2.1 4.6 L3.7 6.7 Q5.9 2.7 9.3 0.6 L9.6 1.1 Q6.6 4.2 4.4 9.3 L3.2 9.4 Z" fill="#111"/></svg>
<svg class="a" style="left:286.2px;top:427.6px;" width="10" height="10" viewBox="0 0 10 10"><path d="M0.4 5.6 L2.1 4.6 L3.7 6.7 Q5.9 2.7 9.3 0.6 L9.6 1.1 Q6.6 4.2 4.4 9.3 L3.2 9.4 Z" fill="#111"/></svg>
<svg class="a" style="left:306.7px;top:427.6px;" width="10" height="10" viewBox="0 0 10 10"><path d="M0.4 5.6 L2.1 4.6 L3.7 6.7 Q5.9 2.7 9.3 0.6 L9.6 1.1 Q6.6 4.2 4.4 9.3 L3.2 9.4 Z" fill="#111"/></svg>
<svg class="a" style="left:327.2px;top:427.6px;" width="10" height="10" viewBox="0 0 10 10"><path d="M0.4 5.6 L2.1 4.6 L3.7 6.7 Q5.9 2.7 9.3 0.6 L9.6 1.1 Q6.6 4.2 4.4 9.3 L3.2 9.4 Z" fill="#111"/></svg>
<svg class="a" style="left:347.2px;top:427.6px;" width="10" height="10" viewBox="0 0 10 10"><path d="M0.4 5.6 L2.1 4.6 L3.7 6.7 Q5.9 2.7 9.3 0.6 L9.6 1.1 Q6.6 4.2 4.4 9.3 L3.2 9.4 Z" fill="#111"/></svg>
<svg class="a" style="left:367.2px;top:427.6px;" width="10" height="10" viewBox="0 0 10 10"><path d="M0.4 5.6 L2.1 4.6 L3.7 6.7 Q5.9 2.7 9.3 0.6 L9.6 1.1 Q6.6 4.2 4.4 9.3 L3.2 9.4 Z" fill="#111"/></svg>
<svg class="a" style="left:388.7px;top:427.6px;" width="10" height="10" viewBox="0 0 10 10"><path d="M0.4 5.6 L2.1 4.6 L3.7 6.7 Q5.9 2.7 9.3 0.6 L9.6 1.1 Q6.6 4.2 4.4 9.3 L3.2 9.4 Z" fill="#111"/></svg>
<svg class="a" style="left:410.7px;top:427.6px;" width="10" height="10" viewBox="0 0 10 10"><path d="M0.4 5.6 L2.1 4.6 L3.7 6.7 Q5.9 2.7 9.3 0.6 L9.6 1.1 Q6.6 4.2 4.4 9.3 L3.2 9.4 Z" fill="#111"/></svg>
<svg class="a" style="left:432.7px;top:427.6px;" width="10" height="10" viewBox="0 0 10 10"><path d="M0.4 5.6 L2.1 4.6 L3.7 6.7 Q5.9 2.7 9.3 0.6 L9.6 1.1 Q6.6 4.2 4.4 9.3 L3.2 9.4 Z" fill="#111"/></svg>
<svg class="a" style="left:456.2px;top:427.6px;" width="10" height="10" viewBox="0 0 10 10"><path d="M0.4 5.6 L2.1 4.6 L3.7 6.7 Q5.9 2.7 9.3 0.6 L9.6 1.1 Q6.6 4.2 4.4 9.3 L3.2 9.4 Z" fill="#111"/></svg>
<svg class="a" style="left:480.7px;top:427.6px;" width="10" height="10" viewBox="0 0 10 10"><path d="M0.4 5.6 L2.1 4.6 L3.7 6.7 Q5.9 2.7 9.3 0.6 L9.6 1.1 Q6.6 4.2 4.4 9.3 L3.2 9.4 Z" fill="#111"/></svg>
<svg class="a" style="left:503.7px;top:427.6px;" width="10" height="10" viewBox="0 0 10 10"><path d="M0.4 5.6 L2.1 4.6 L3.7 6.7 Q5.9 2.7 9.3 0.6 L9.6 1.1 Q6.6 4.2 4.4 9.3 L3.2 9.4 Z" fill="#111"/></svg>
</body></html>
